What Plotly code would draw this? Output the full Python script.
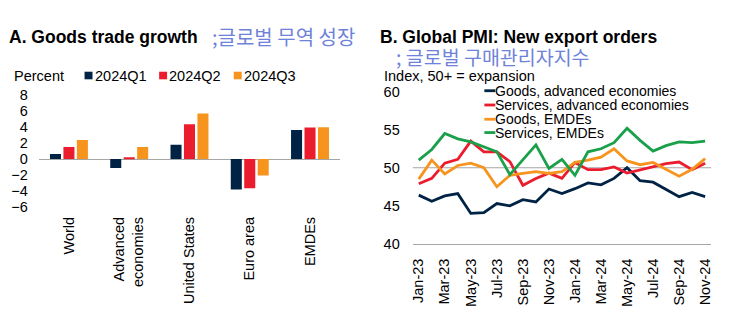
import plotly.graph_objects as go

# ---------------- data ----------------
regions = ["World", "Advanced<br>economies", "United States", "Euro area", "EMDEs"]
q_names = ["2024Q1", "2024Q2", "2024Q3"]
q1 = [0.65, -1.1, 1.8, -3.8, 3.65]
q2 = [1.5, 0.15, 4.35, -3.65, 3.95]
q3 = [2.4, 1.5, 5.7, -2.05, 4.0]

months = ["Jan-23", "Feb-23", "Mar-23", "Apr-23", "May-23", "Jun-23", "Jul-23", "Aug-23",
          "Sep-23", "Oct-23", "Nov-23", "Dec-23", "Jan-24", "Feb-24", "Mar-24", "Apr-24",
          "May-24", "Jun-24", "Jul-24", "Aug-24", "Sep-24", "Oct-24", "Nov-24"]
goods_ae = [46.4, 45.6, 46.3, 46.6, 44.0, 44.1, 45.3, 45.0, 45.8, 45.5, 47.2, 46.6,
            47.25, 48.0, 47.75, 48.6, 50.0, 48.3, 48.1, 47.1, 46.2, 46.75, 46.2]
services_ae = [47.9, 48.6, 50.6, 51.1, 53.5, 52.1, 52.1, 50.8, 47.7, 48.6, 49.3, 48.6,
               50.7, 49.75, 49.75, 50.1, 49.3, 49.7, 50.1, 50.55, 50.75, 49.75, 50.6]
goods_emde = [48.5, 51.0, 49.2, 50.3, 50.6, 50.0, 47.5, 49.0, 49.25, 49.5, 49.25, 49.5,
              50.7, 51.0, 51.4, 52.5, 50.9, 50.4, 50.7, 49.75, 48.9, 49.8, 51.2]
services_emde = [51.0, 52.4, 54.5, 53.8, 53.4, 52.8, 52.1, 49.1, 51.1, 53.0, 49.9, 51.1,
                 49.0, 52.1, 52.5, 53.3, 55.2, 53.6, 52.2, 52.9, 53.4, 53.3, 53.5]
pmi_names = ["Goods, advanced economies", "Services, advanced economies",
             "Goods, EMDEs", "Services, EMDEs"]

# ---------------- style ----------------
W, H = 737, 326
FONT = "Liberation Sans, Arial, sans-serif"
KFONT = "Noto Sans CJK KR, sans-serif"
NAVY, RED, ORANGE, GREEN = "#002345", "#EB1C2D", "#F7941D", "#1AA04A"
KCOL = "#6F82DA"
GRAY = "#A6A6A6"


def px_x(p):
    return p / W


def px_y(p):
    return 1 - p / H


fig = go.Figure()

for name, vals, col in zip(q_names, [q1, q2, q3], [NAVY, RED, ORANGE]):
    fig.add_trace(go.Bar(x=regions, y=vals, name=name, marker_color=col,
                         marker_line_width=0, xaxis="x", yaxis="y", showlegend=False))

for name, vals, col in zip(pmi_names, [goods_ae, services_ae, goods_emde, services_emde],
                           [NAVY, RED, ORANGE, GREEN]):
    fig.add_trace(go.Scatter(x=months, y=vals, name=name, mode="lines",
                             line=dict(color=col, width=2.8), xaxis="x2", yaxis="y2",
                             showlegend=False))

fig.update_layout(
    width=W, height=H, autosize=False,
    margin=dict(l=0, r=0, t=0, b=0),
    paper_bgcolor="white", plot_bgcolor="white",
    font=dict(family=FONT, size=14.5, color="#000"),
    barmode="group", bargap=0.33, bargroupgap=0.18,
    showlegend=False,
    xaxis=dict(domain=[px_x(37), px_x(340)], type="category", tickangle=-90,
               showgrid=False, showline=False, ticks="", zeroline=False,
               tickfont=dict(size=14.5), ticklabelstandoff=6),
    yaxis=dict(domain=[px_y(209.3), px_y(91.7)], range=[-6, 8], dtick=2,
               showgrid=False, showline=False, ticks="", zeroline=True,
               zerolinecolor=GRAY, zerolinewidth=1, tickfont=dict(size=14.5),
               ticklabelstandoff=10),
    xaxis2=dict(domain=[px_x(413), px_x(713)], type="category",
                range=[-0.46, 22.46], tickmode="array", tickvals=months[::2],
                tickangle=-90, showgrid=False, showline=True, linecolor=GRAY,
                linewidth=1, ticks="", tickfont=dict(size=14.5), anchor="y2",
                ticklabelstandoff=8),
    yaxis2=dict(domain=[px_y(248), px_y(88)], range=[40, 60], dtick=5,
                showgrid=False, showline=False, ticks="", zeroline=False,
                tickfont=dict(size=14.5), anchor="x2", ticklabelstandoff=12),
)

# reference line at 50 on PMI panel
fig.add_shape(type="line", xref="x2 domain", yref="y2", x0=0, x1=1, y0=50, y1=50,
              line=dict(color=GRAY, width=1), layer="below")

annotations = [
    dict(text="<b>A. Goods trade growth</b>", x=px_x(5), y=px_y(30),
         font=dict(size=17.5, family=FONT)),
    dict(text=";글로벌 무역 성장", x=px_x(209), y=px_y(30),
         font=dict(size=20, family=KFONT, color=KCOL)),
    dict(text="Percent", x=px_x(10), y=px_y(71), font=dict(size=14.5, family=FONT)),
    dict(text="<b>B. Global PMI: New export orders</b>", x=px_x(378), y=px_y(30),
         font=dict(size=17.5, family=FONT)),
    dict(text="; 글로벌 구매관리자지수", x=px_x(394), y=px_y(51),
         font=dict(size=19.5, family=KFONT, color=KCOL)),
    dict(text="Index, 50+ = expansion", x=px_x(382), y=px_y(71),
         font=dict(size=14.5, family=FONT)),
]

# legend for goods trade panel
q_leg_x = [83, 158, 233]
for name, col, lx in zip(q_names, [NAVY, RED, ORANGE], q_leg_x):
    fig.add_shape(type="rect", xref="paper", yref="paper", x0=px_x(lx), x1=px_x(lx + 8),
                  y0=px_y(75), y1=px_y(67), fillcolor=col, line_width=0)
    annotations.append(dict(text=name, x=px_x(lx + 8), y=px_y(71),
                            font=dict(size=14.5, family=FONT)))

# legend for PMI panel
leg_rows = [87, 102, 117, 131]
for name, col, ry in zip(pmi_names, [NAVY, RED, ORANGE, GREEN], leg_rows):
    annotations.append(dict(text=name, x=px_x(494), y=px_y(ry),
                            font=dict(size=14, family=FONT)))
    fig.add_shape(type="line", xref="paper", yref="paper", x0=px_x(485), x1=px_x(496),
                  y0=px_y(ry), y1=px_y(ry), line=dict(color=col, width=2.8))

for a in annotations:
    a.update(xref="paper", yref="paper", xanchor="left", yanchor="middle",
             showarrow=False)
    fig.add_annotation(**a)

fig.write_html("out.html", post_script="document.body.style.margin='0';")
